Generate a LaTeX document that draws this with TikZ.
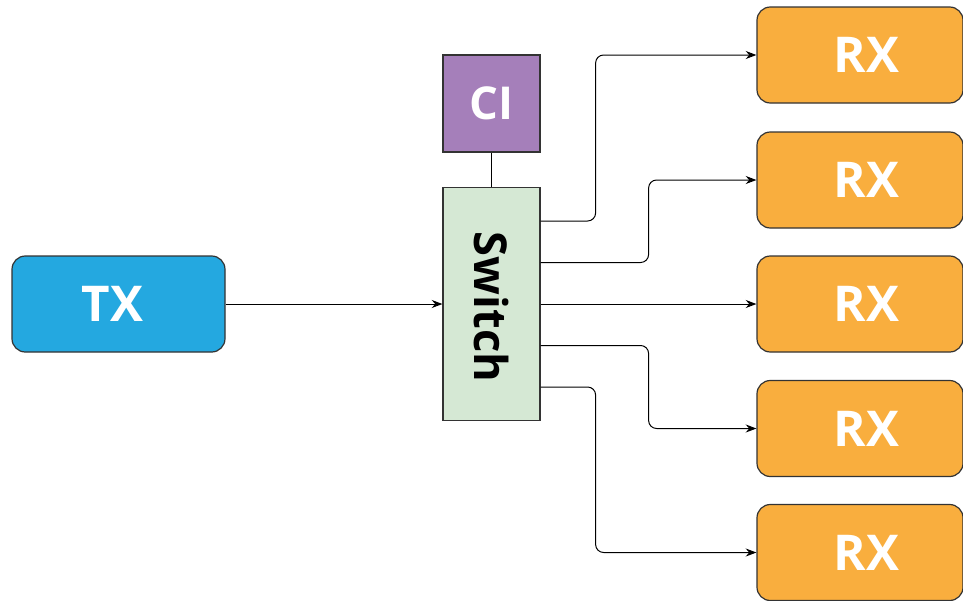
\documentclass[tikz,border=0pt]{standalone}
\usepackage{fontspec}
\setmainfont{Open Sans}
\usetikzlibrary{arrows.meta,calc}

\definecolor{txblue}{HTML}{24A8E0}
\definecolor{cipurple}{HTML}{A57FBA}
\definecolor{swgreen}{HTML}{D5E8D4}
\definecolor{rxorange}{HTML}{F9AE3E}
\definecolor{edge}{HTML}{333333}

\tikzset{
  box/.style={draw=edge, line width=0.9pt, inner sep=0pt, font=\bfseries\fontsize{37}{40}\selectfont},
  endpoint/.style={box, rounded corners=10pt, minimum height=72pt, text=white},
  conn/.style={draw=black, line width=0.75pt, rounded corners=6pt, -{Stealth[length=8pt,width=6pt]}},
  link/.style={draw=black, line width=0.75pt},
}

\begin{document}
\begin{tikzpicture}[x=0.75pt, y=-0.75pt]
\useasboundingbox (0,0) rectangle (963,600);

% transmitter
\node[endpoint, fill=txblue, minimum width=159.75pt] (tx) at (118.5,304) {TX\hspace*{9pt}};

% control interface and switch
\node[box, fill=cipurple, text=white, minimum width=72.75pt, minimum height=72.75pt,
      font=\bfseries\fontsize{34}{38}\selectfont] (ci) at (491.5,103.5) {CI};
\node[box, fill=swgreen, minimum width=72.75pt, minimum height=174.75pt] (sw) at (491.5,304) {};
\node[rotate=-90, font=\bfseries\fontsize{34}{38}\selectfont] (swlabel) at ($(sw.center)+(0,3)$) {Switch};

% receivers
\foreach \i/\y in {1/55, 2/180, 3/304, 4/428.5, 5/552.5}
  \node[endpoint, fill=rxorange, minimum width=154.5pt] (rx\i) at (860,\y) {\hspace*{10pt}RX};

% connections
\draw[link] (ci.south) -- (sw.north);
\draw[conn, rounded corners=0pt] (tx.east) -- (tx.east -| sw.west);

\coordinate (p1) at ($(sw.east)+(0,-83)$);
\coordinate (p2) at ($(sw.east)+(0,-41.5)$);
\coordinate (p4) at ($(sw.east)+(0,41.5)$);
\coordinate (p5) at ($(sw.east)+(0,83)$);

\draw[conn] (p1) -- ++(55,0) |- (rx1.west);
\draw[conn] (p2) -- ++(108,0) |- (rx2.west);
\draw[conn, rounded corners=0pt] (sw.east |- rx3.west) -- (rx3.west);
\draw[conn] (p4) -- ++(108,0) |- (rx4.west);
\draw[conn] (p5) -- ++(55,0) |- (rx5.west);
\end{tikzpicture}
\end{document}
